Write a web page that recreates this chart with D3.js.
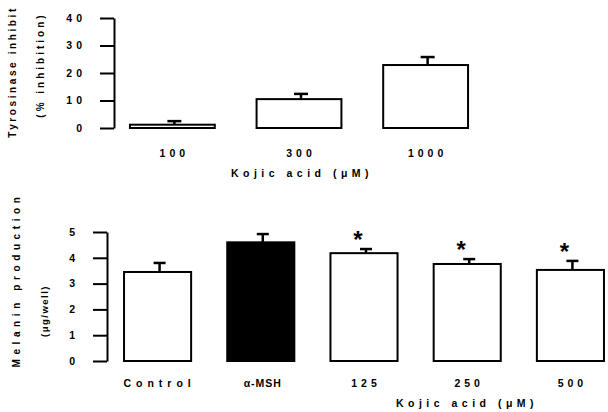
<!DOCTYPE html>
<html><head><meta charset="utf-8">
<script src="https://cdn.jsdelivr.net/npm/d3@7"></script>
<style>
body{margin:0;background:#fff;}
text{font-family:"Liberation Sans",Arial,sans-serif;font-weight:bold;fill:#000;}
</style></head><body>
<svg id="c" width="608" height="412"></svg>
<script>
// Top panel: tyrosinase inhibition
const topCats = ["100", "300", "1000"];
const topVals = [1.2, 10.5, 22.9];
const topErr = [2.5, 12.4, 25.8];
const topTicks = [0, 10, 20, 30, 40];

// Bottom panel: melanin production
const botCats = ["Control", "α-MSH", "125", "250", "500"];
const botVals = [3.45, 4.6, 4.18, 3.76, 3.53];
const botErr = [3.8, 4.92, 4.34, 3.95, 3.88];
const botFill = ["white", "black", "white", "white", "white"];
const botStar = [false, false, true, true, true];
const botTicks = [0, 1, 2, 3, 4, 5];

const svg = d3.select("#c");

function panel(cfg){
  const g = svg.append("g");
  const x = d3.scaleBand().domain(cfg.cats).range(cfg.xr).paddingInner(cfg.pi).paddingOuter(cfg.po);
  const y = d3.scaleLinear().domain(cfg.yd).range(cfg.yr);
  const ax = d3.axisLeft(y).tickValues(cfg.ticks).tickFormat(d3.format("d"))
    .tickSize(14).tickPadding(18).tickSizeOuter(0);
  const ag = g.append("g").attr("transform", `translate(${cfg.xr[0]},0)`).call(ax);
  ag.select(".domain").attr("stroke", "#000").attr("stroke-width", 2);
  ag.selectAll(".tick line").attr("stroke", "#000").attr("stroke-width", 2);
  ag.selectAll(".tick text").attr("font-size", 10.5).style("letter-spacing", "4px")
    .attr("font-family", "Liberation Sans, Arial, sans-serif").attr("font-weight", "bold").attr("dx", "4px");
  g.selectAll(".eb").data(cfg.cats).enter().append("line")
    .attr("x1", d => x(d) + x.bandwidth()/2 + 2).attr("x2", d => x(d) + x.bandwidth()/2 + 2)
    .attr("y1", (d,i) => y(cfg.vals[i])).attr("y2", (d,i) => y(cfg.err[i]))
    .attr("stroke", "#000").attr("stroke-width", 2.5);
  g.selectAll(".cap").data(cfg.cats).enter().append("line")
    .attr("x1", d => x(d) + x.bandwidth()/2 + 2 - cfg.cap).attr("x2", d => x(d) + x.bandwidth()/2 + 2 + cfg.cap)
    .attr("y1", (d,i) => y(cfg.err[i])).attr("y2", (d,i) => y(cfg.err[i]))
    .attr("stroke", "#000").attr("stroke-width", 2.5);
  g.selectAll(".bar").data(cfg.cats).enter().append("rect")
    .attr("x", d => x(d)).attr("width", x.bandwidth())
    .attr("y", (d,i) => y(cfg.vals[i])).attr("height", (d,i) => y(0) - y(cfg.vals[i]))
    .attr("fill", (d,i) => cfg.fill[i]).attr("stroke", "#000").attr("stroke-width", 2);
  g.selectAll(".cl").data(cfg.cats).enter().append("text")
    .attr("x", d => x(d) + x.bandwidth()/2 + 2).attr("y", cfg.labY)
    .attr("text-anchor", "middle").attr("font-size", 10.5)
    .style("letter-spacing", d => d === "α-MSH" ? "1px" : (d === "Control" ? "5px" : "4px"))
    .text(d => d);
  return {x, y, g};
}

const T = panel({cats: topCats, vals: topVals, err: topErr, fill: ["white","white","white"],
  ticks: topTicks, xr: [114, 484], pi: 0.33, po: 0.126, yd: [0, 40], yr: [128, 18], cap: 7, labY: 157});
T.g.append("text").attr("x", 302).attr("y", 177).attr("text-anchor", "middle")
  .attr("font-size", 10.5).style("letter-spacing", "4.5px").text("Kojic acid  (μM)");
T.g.append("text").attr("transform", "translate(16,72) rotate(-90)").attr("text-anchor", "middle")
  .attr("font-size", 10).style("letter-spacing", "2.6px").text("Tyrosinase inhibit");
T.g.append("text").attr("transform", "translate(44,65) rotate(-90)").attr("text-anchor", "middle")
  .attr("font-size", 10).style("letter-spacing", "3px").text("(% inhibition)");

const B = panel({cats: botCats, vals: botVals, err: botErr, fill: botFill,
  ticks: botTicks, xr: [107, 621], pi: 0.35, po: 0.165, yd: [0, 5], yr: [361, 232], cap: 6, labY: 387});
B.g.selectAll(".star").data(botCats.filter((d,i) => botStar[i])).enter().append("text")
  .attr("x", d => B.x(d) + B.x.bandwidth()/2 - 6)
  .attr("y", d => B.y(botErr[botCats.indexOf(d)]) - 1)
  .attr("text-anchor", "middle").attr("font-size", 24).attr("font-weight", "normal").text("*");
B.g.append("text").attr("x", 467).attr("y", 407).attr("text-anchor", "middle")
  .attr("font-size", 10.5).style("letter-spacing", "4.5px").text("Kojic acid  (μM)");
B.g.append("text").attr("transform", "translate(20,280) rotate(-90)").attr("text-anchor", "middle")
  .attr("font-size", 10).style("letter-spacing", "4.6px").text("Melanin production");
B.g.append("text").attr("transform", "translate(48,311) rotate(-90)").attr("text-anchor", "middle")
  .attr("font-size", 9.5).style("letter-spacing", "1.5px").text("(μg/well)");
</script></body></html>
